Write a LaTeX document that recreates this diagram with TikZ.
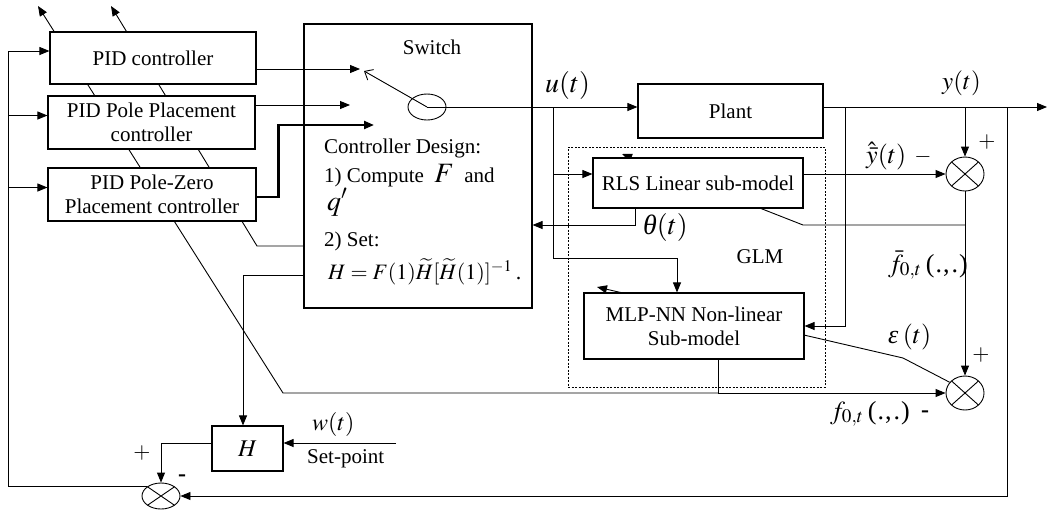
\documentclass[tikz,border=0pt]{standalone}
\usepackage{mathptmx}
\usepackage{fontspec}
\setmainfont{Liberation Serif}
\usetikzlibrary{arrows.meta,backgrounds,shapes.geometric}

\newcommand{\argdots}{(\kern1pt.\kern1pt,\kern2pt.\kern1pt)}

\begin{document}
\begin{tikzpicture}[x=1pt,y=-1pt,
  ln/.style={line width=0.9pt},
  arr/.style={ln,-{Triangle[length=10pt,width=8pt]}},
  blk/.style={draw,fill=white,line width=1.1pt,inner sep=0pt,align=center,
    font=\fontsize{21}{24}\selectfont},
  sumx/.style={draw,ellipse,fill=white,line width=0.9pt,inner sep=0pt,minimum width=38pt,
    path picture={\draw[line width=0.9pt]
      (path picture bounding box.north west) -- (path picture bounding box.south east)
      (path picture bounding box.north east) -- (path picture bounding box.south west);}},
  lbl/.style={inner sep=0pt,anchor=base west},
  txt/.style={inner sep=0pt,anchor=base west,font=\fontsize{21}{24}\selectfont},
  sgn/.style={inner sep=0pt,font=\fontsize{22}{24}\selectfont},
]
\useasboundingbox (0,0) rectangle (1048,512);

% ---------- blocks ----------
\node[blk,minimum width=206pt,minimum height=52pt] (pid1) at (153,58) {PID controller};
\node[blk,minimum width=207pt,minimum height=53pt] (pid2) at (151.5,122.5) {PID Pole Placement\\controller};
\node[blk,minimum width=208pt,minimum height=53pt] (pid3) at (152,194.5) {PID Pole-Zero\\Placement controller};
\node[blk,minimum width=228pt,minimum height=284pt] (sw) at (418,166) {};
\node[blk,minimum width=185pt,minimum height=54pt] (plant) at (730.5,111) {Plant};
\node[draw,line width=0.8pt,dash pattern=on 2pt off 1.5pt,inner sep=0pt,
      minimum width=257pt,minimum height=240pt] (glm) at (696.5,267) {};
\node[blk,minimum width=210pt,minimum height=50pt] (rls) at (698,183) {RLS Linear sub-model};
\node[blk,minimum width=220pt,minimum height=66pt] (mlp) at (694,326) {MLP-NN Non-linear\\Sub-model};
\node[blk,minimum width=71pt,minimum height=45pt] (hb) at (247.5,448.5) {\fontsize{24}{26}\selectfont$H$};
\node[sumx,minimum height=34pt] (s1) at (965,174) {};
\node[sumx,minimum height=34pt] (s2) at (965,393) {};
\node[sumx,minimum height=26pt] (s3) at (161,496) {};
\node[draw,ellipse,line width=0.9pt,inner sep=0pt,minimum width=38pt,minimum height=26pt] (swc) at (427,107) {};

% ---------- routing points ----------
\coordinate (a1) at (360,69);
\coordinate (a2) at (350,105);
\coordinate (a3) at (374,125);
\coordinate (ptr) at (364,71);
\coordinate (ut) at (553,107);
\coordinate (ub) at (553,258);
\coordinate (th) at (635,225);
\coordinate (yo) at (1047,107);
\coordinate (yb1) at (845,107);
\coordinate (yb3) at (1007,107);
\coordinate (e1) at (965,225);
\coordinate (e2) at (803,225);
\coordinate (tipR) at (622,154);
\coordinate (ek) at (903,358);
\coordinate (tipM) at (597,287);
\coordinate (f0) at (718,393);
\coordinate (f0k) at (283,393);
\coordinate (tipA) at (38,6);
\coordinate (setk) at (257,246);
\coordinate (tipB) at (111,6);
\coordinate (hs) at (243,275);
\coordinate (wsp) at (396,443);
\coordinate (fbx) at (8,0);
\coordinate (in1) at ([yshift=7pt]pid1.west);
\coordinate (in2) at ([yshift=7pt]pid2.west);
\coordinate (in3) at ([yshift=7pt]pid3.west);

% ---------- connectors ----------
\draw[arr] (pid1.east |- a1) -- (a1);
\draw[arr] (pid2.east |- a2) -- (a2);
\draw[arr,line width=2.2pt] ([yshift=-2.5pt]pid3.east) -- ++(22,0) |- (a3);
\draw[ln,-{Straight Barb[length=7pt,width=12pt]}] (swc.center) -- (ptr);
\draw[arr] (swc.center) -- (plant.west |- swc.center);
\draw[ln] (ut) -- (ub);
\draw[arr] (ub) -| ([xshift=-17pt]mlp.north);
\draw[arr] (ut |- s1) -- (rls.west |- s1);
\draw[arr] (rls.south -| th) -- (th) -- (sw.east |- th);
\draw[arr] (plant.east |- swc.center) -- (yo);
\draw[arr] (yb1) |- (mlp.east);
\draw[arr] (s1.north |- yo) -- (s1.north);
\draw[arr] (yb3) |- (s3.east);
\draw[arr] (rls.east |- s1) -- (s1.west);
\draw[arr] (s1.south) -- (s2.north);
\draw[arr] (mlp.south -| f0) -- (f0) -- (s2.west);
\draw[arr] (sw.west |- hs) -| (hb.north -| hs);
\draw[arr] (wsp) -- (hb.east |- wsp);
\draw[arr] (hb.west |- wsp) -| (s3.north);
\draw[ln] (s3.145) -| (fbx |- in1);
\draw[arr] (fbx |- in1) -- (in1);
\draw[arr] (fbx |- in2) -- (in2);
\draw[arr] (fbx |- in3) -- (in3);

% tuning paths, passing behind the blocks
\begin{scope}[on background layer]
\draw[arr] (f0) -- (f0k) -- (tipA);
\draw[arr] (sw.west |- setk) -- (setk) -- (tipB);
\draw[arr] (e1) -- (e2) -- (tipR);
\draw[arr] (s2.145) -- (ek) -- (tipM);
\end{scope}

% ---------- texts ----------
\node[inner sep=0pt,anchor=base,font=\fontsize{21}{24}\selectfont] (lsw) at (432,54) {Switch};
\node[txt] (cd0) at (324,153) {Controller Design:};
\node[txt] (cd1) at (324,182) {1) Compute\enspace{\fontsize{28}{30}\selectfont$F$}\enspace and};
\node[txt,font=\fontsize{28}{30}\selectfont] (cd2) at (327,210) {$q'$};
\node[txt] (cd3) at (324,246) {2) Set:};
\node[txt,font=\fontsize{22}{24}\selectfont] (cd4) at (328,279) {$H=F(1)\widetilde{H}[\widetilde{H}(1)]^{-1}$\,.};

\node[lbl,font=\fontsize{28}{30}\selectfont] (lu) at (545,92) {$u(t)$};
\node[lbl,font=\fontsize{25}{27}\selectfont] (ly) at (942,89) {$y(t)$};
\node[lbl,font=\fontsize{26}{28}\selectfont] (lyh) at (866,163) {$\hat{\bar{y}}(t)$};
\node[sgn] (lm1) at (923,157) {$-$};
\node[sgn] (lp1) at (987,142) {$+$};
\node[lbl,font=\fontsize{28}{30}\selectfont] (lth) at (643,234) {\textit{θ}$(t)$};
\node[inner sep=0pt,font=\fontsize{21}{24}\selectfont] (lglm) at (760,257) {GLM};
\node[lbl,font=\fontsize{26}{28}\selectfont] (lfb) at (888,272) {$\bar{f}_{0,t}$\,\argdots};
\node[lbl,font=\fontsize{26}{28}\selectfont] (leps) at (888,343) {\textit{ε}\,$(t)$};
\node[sgn] (lp2) at (981,355) {$+$};
\node[lbl,font=\fontsize{26}{28}\selectfont] (lf0) at (830,419) {$f_{0,t}$\,\argdots};
\node[sgn,font=\fontsize{24}{26}\bfseries] (lm2) at (925,414) {-};
\node[lbl,font=\fontsize{24}{26}\selectfont] (lw) at (312,430) {$w(t)$};
\node[txt] (lsp) at (307,463) {Set-point};
\node[sgn] (lp3) at (142,453) {$+$};
\node[sgn,font=\fontsize{24}{26}\bfseries] (lm3) at (182,478) {-};
\end{tikzpicture}
\end{document}
